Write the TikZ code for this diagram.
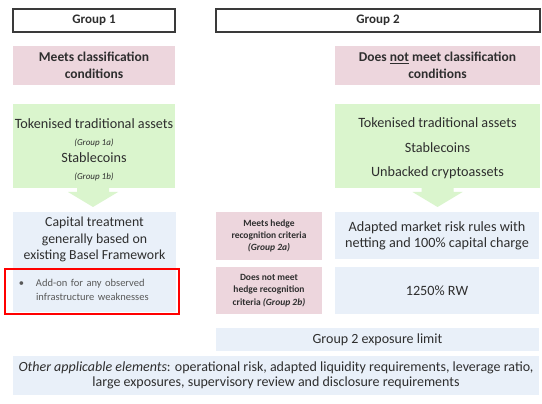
\documentclass[tikz,border=0pt]{standalone}
\usepackage{fontspec}
\setmainfont{Carlito}
\usetikzlibrary{calc}
\definecolor{pinkc}{HTML}{EDD6DD}
\definecolor{greenc}{HTML}{DAF5CD}
\definecolor{bluec}{HTML}{E9F0F9}
\definecolor{txtc}{HTML}{2E2E2E}
\definecolor{greytxt}{HTML}{595959}
\definecolor{edgec}{HTML}{3A3A3A}
\begin{document}
\begin{tikzpicture}[x=1pt,y=-1pt,
  box/.style={inner sep=0pt, outer sep=0pt, draw=none, text=txtc, align=center},
  headbox/.style={box, fill=white, draw=edgec, line width=1.1pt, font=\bfseries\fontsize{13}{15}\selectfont},
  pinkbox/.style={box, fill=pinkc},
  greenbox/.style={box, fill=greenc},
  bluebox/.style={box, fill=bluec},
  txt/.style={inner sep=0pt, text=txtc, align=center},
  blockarrow/.style={fill=greenc, draw=none}
]
\useasboundingbox (0,0) rectangle (542,404);
\fill[white] (0,0) rectangle (542,404);

% headers
\node[headbox, minimum width=162pt, minimum height=23pt] (g1h) at (94,20.5) {Group 1};
\node[headbox, minimum width=324pt, minimum height=23pt] (g2h) at (378,20.5) {Group 2};

% classification
\node[pinkbox, minimum width=162pt, minimum height=39pt, font=\bfseries\fontsize{13.5}{17}\selectfont] (mc) at (94,65.5) {Meets classification\\conditions};
\node[pinkbox, minimum width=205pt, minimum height=39pt, font=\bfseries\fontsize{13.5}{17}\selectfont] (dnm) at (437.5,65.5) {Does \underline{not} meet classification\\conditions};

% green boxes
\node[greenbox, minimum width=162pt, minimum height=84pt] (gr1) at (94,146) {};
\node[greenbox, minimum width=205pt, minimum height=84pt] (gr2) at (437.5,146) {};

% block arrows
\path[blockarrow] ($(gr1.south)+(-17,-3)$) -- ($(gr1.south)+(15,-3)$) -- ($(gr1.south)+(15,4)$)
  -- ($(gr1.south)+(24,4)$) -- ($(gr1.south)+(-1,19)$) -- ($(gr1.south)+(-26,4)$)
  -- ($(gr1.south)+(-17,4)$) -- cycle;
\path[blockarrow] ($(gr2.south)+(-16,-3)$) -- ($(gr2.south)+(16,-3)$) -- ($(gr2.south)+(16,4)$)
  -- ($(gr2.south)+(25,4)$) -- ($(gr2.south)+(0,19)$) -- ($(gr2.south)+(-25,4)$)
  -- ($(gr2.south)+(-16,4)$) -- cycle;

\node[txt, font=\fontsize{14.2}{17}\selectfont] (gr1t) at (94,149.5)
  {Tokenised traditional assets\\{\fontsize{9}{17}\selectfont\itshape (Group 1a)}\\Stablecoins\\{\fontsize{9}{17}\selectfont\itshape (Group 1b)}};
\node[txt, font=\fontsize{14.2}{24.5}\selectfont] (gr2t) at (437.5,148.5)
  {Tokenised traditional assets\\Stablecoins\\Unbacked cryptoassets};

% capital treatment
\node[bluebox, minimum width=163pt, minimum height=100pt] (cap) at (94.5,262) {};
\node[txt, font=\fontsize{13.8}{16.5}\selectfont] (capt) at (94.5,239.5)
  {Capital treatment\\generally based on\\existing Basel Framework};
\node[inner sep=0pt, draw=red, line width=2pt, minimum width=174pt, minimum height=45pt,
  text width=146pt, align=left, text=greytxt, font=\fontsize{10.5}{14}\selectfont] (redbox) at (92,291)
  {\begin{tabular}{@{}p{17pt}@{}l@{}}•&Add-on for any observed\\ &infrastructure weaknesses\end{tabular}};

% hedge boxes
\node[pinkbox, minimum width=106pt, minimum height=48pt, font=\bfseries\fontsize{9.5}{12}\selectfont] (h2a) at (269,236)
  {Meets hedge\\recognition criteria\\{\itshape (Group 2a)}};
\node[pinkbox, minimum width=106pt, minimum height=47pt, font=\bfseries\fontsize{9.5}{12.5}\selectfont] (h2b) at (269,290.5)
  {Does not meet\\hedge recognition\\criteria {\itshape (Group 2b)}};

\node[bluebox, minimum width=204pt, minimum height=47pt, font=\fontsize{14.2}{16}\selectfont] (amr) at (437,235.5)
  {Adapted market risk rules with\\netting and 100\% capital charge};
\node[bluebox, minimum width=204pt, minimum height=47pt, font=\fontsize{14.2}{16}\selectfont] (rw) at (437,290.5)
  {1250\% RW};

\node[bluebox, minimum width=323pt, minimum height=23pt, font=\fontsize{14}{16}\selectfont] (lim) at (377.5,339.5)
  {Group 2 exposure limit};
\node[bluebox, minimum width=526pt, minimum height=39pt, font=\fontsize{14}{15}\selectfont] (oth) at (276,375.5)
  {\textit{Other applicable elements}: operational risk, adapted liquidity requirements, leverage ratio,\\large exposures, supervisory review and disclosure requirements};
\end{tikzpicture}
\end{document}
